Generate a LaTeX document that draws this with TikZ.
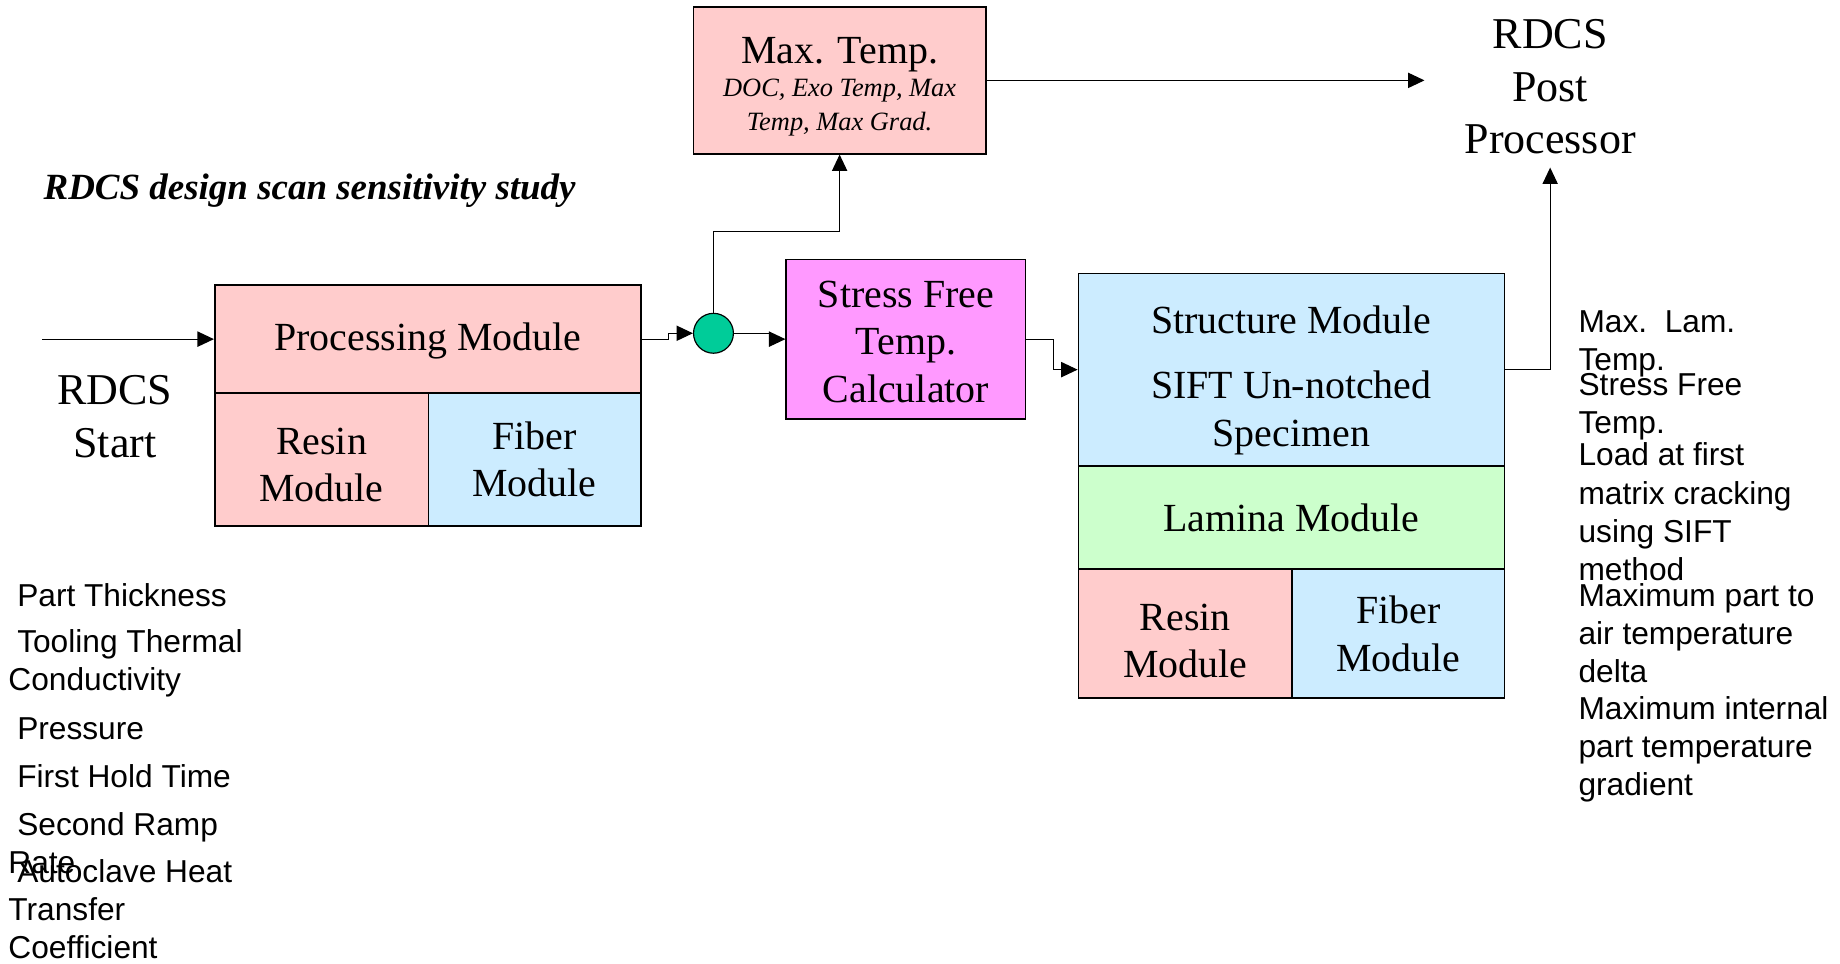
\documentclass[tikz,border=0pt]{standalone}
\usepackage{fontspec}
\setmainfont{Liberation Serif}
\setsansfont{Liberation Sans}
\usetikzlibrary{arrows.meta}
\definecolor{respink}{HTML}{FFCCCC}
\definecolor{fibblue}{HTML}{CCECFF}
\definecolor{lamgreen}{HTML}{CCFFCC}
\definecolor{sftpink}{HTML}{FF99FF}
\definecolor{juncgreen}{HTML}{00CC99}
\begin{document}
\begin{tikzpicture}[x=1pt,y=-1pt,
    modbox/.style={draw,line width=1.4pt,inner sep=0,align=center,font=\fontsize{34}{40.5}\selectfont},
    arr/.style={-{Triangle[length=14pt,width=13pt]},line width=1pt},
    bigtxt/.style={inner sep=0,align=center,font=\fontsize{37.5}{45}\selectfont},
    lst/.style={anchor=base west,inner sep=0,align=left,font=\sffamily\fontsize{27}{32.5}\selectfont}]
\useasboundingbox (0,0) rectangle (1568,821);

\node[anchor=base west,inner sep=0,font=\bfseries\itshape\fontsize{31.5}{38}\selectfont] (title) at (37,170) {RDCS design scan sensitivity study};
\node[bigtxt] (start) at (98,355) {RDCS\\Start};
\node[bigtxt,inner xsep=34,inner ysep=11] (post) at (1321,74) {RDCS\\Post\\Processor};

% processing
\node[modbox,fill=respink,minimum width=363,minimum height=92] (proc) at (364.5,289) {\rule{0pt}{26pt}Processing Module};
\node[modbox,fill=respink,minimum width=182,minimum height=113] (presin) at (274,391.5) {\rule{0pt}{32pt}Resin\\Module};
\node[modbox,fill=fibblue,minimum width=181,minimum height=113] (pfiber) at (455.5,391.5) {Fiber\\Module};
\node[circle,draw,fill=juncgreen,line width=1pt,inner sep=0,minimum size=34] (junc) at (608,284) {};
\node[modbox,fill=respink,minimum width=249,minimum height=125,font=\fontsize{22.5}{28.5}\selectfont] (maxt) at (715.5,68.5)
    {{\fontsize{34}{40}\selectfont\rule{0pt}{33pt}Max. Temp.}\\\itshape DOC, Exo Temp, Max\\\itshape Temp, Max Grad.};
\node[modbox,fill=sftpink,minimum width=204,minimum height=136] (stress) at (772,289) {\rule{0pt}{27pt}Stress Free\\Temp.\\Calculator};

% structure
\node[modbox,fill=fibblue,minimum width=363,minimum height=164,font=\fontsize{34}{41}\selectfont] (struct) at (1100.5,315)
    {\rule{0pt}{42pt}Structure Module\\[14pt]SIFT Un-notched\\Specimen};
\node[modbox,fill=lamgreen,minimum width=363,minimum height=88] (lamina) at (1100.5,441) {Lamina Module};
\node[modbox,fill=respink,minimum width=182,minimum height=110] (sresin) at (1010,540) {\rule{0pt}{35pt}Resin\\Module};
\node[modbox,fill=fibblue,minimum width=181,minimum height=110] (sfiber) at (1191.5,540) {Fiber\\Module};

\foreach \y/\t [count=\i] in {517/\ Part Thickness,588.5/\ Tooling Thermal\\Conductivity,630/\ Pressure,
    671/\ First Hold Time,744.5/\ Second Ramp\\Rate,817/\ Autoclave Heat\\Transfer\\Coefficient}{
    \node[lst] (par\i) at (7,\y) {\t};
}
\foreach \y/\t [count=\i] in {315.5/Max.\ \ Lam.\\Temp.,369.5/Stress Free\\Temp.,494.5/Load at first\\matrix cracking\\using SIFT\\method,
    582/Maximum part to\\air temperature\\delta,678/Maximum internal\\part temperature\\gradient}{
    \node[lst] (res\i) at (1345,\y) {\t};
}

\coordinate (entry) at (36,289);
\draw[arr] (entry) -- (proc.west);
\draw[arr] (proc.east) -- ++(23,0) |- (junc.west);
\draw[arr] (junc.east) -- ++(30,0) |- (stress.west);
\draw[arr] (junc.north) -- ++(0,-69) -| (maxt.south);
\draw[arr] (maxt.east) -- (maxt.east -| post.west);
\draw[arr] (stress.east) -- ++(23,0) |- (struct.west);
\draw[arr] (struct.east) -| (post.south);
\end{tikzpicture}
\end{document}
